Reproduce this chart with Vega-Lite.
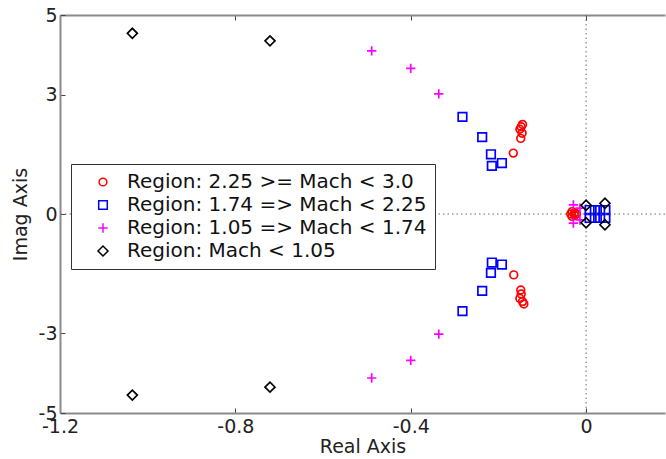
{
  "$schema": "https://vega.github.io/schema/vega-lite/v6.json",
  "width": 605,
  "height": 398,
  "autosize": {"type": "none"},
  "padding": {"left": 60, "top": 15, "right": 1, "bottom": 46},
  "background": "white",
  "config": {
    "view": {"stroke": null},
    "font": "DejaVu Sans",
    "axis": {
      "grid": false,
      "labelFlush": false,
      "labelOverlap": false,
      "domainColor": "#8a8a8a",
      "domainWidth": 2,
      "tickColor": "#444",
      "tickWidth": 1,
      "tickSize": -5,
      "labelColor": "#222",
      "labelFont": "DejaVu Sans",
      "labelFontSize": 19,
      "titleFont": "DejaVu Sans",
      "titleFontSize": 19,
      "titleFontWeight": "normal",
      "titleColor": "#222"
    }
  },
  "datasets": {
    "poles": [
      {"re": -0.166, "im": 1.53, "region": "Region: 2.25 >= Mach < 3.0"},
      {"re": -0.145, "im": 2.25, "region": "Region: 2.25 >= Mach < 3.0"},
      {"re": -0.148, "im": 2.19, "region": "Region: 2.25 >= Mach < 3.0"},
      {"re": -0.151, "im": 2.13, "region": "Region: 2.25 >= Mach < 3.0"},
      {"re": -0.146, "im": 2.03, "region": "Region: 2.25 >= Mach < 3.0"},
      {"re": -0.149, "im": 1.90, "region": "Region: 2.25 >= Mach < 3.0"},
      {"re": -0.165, "im": -1.53, "region": "Region: 2.25 >= Mach < 3.0"},
      {"re": -0.149, "im": -1.91, "region": "Region: 2.25 >= Mach < 3.0"},
      {"re": -0.148, "im": -2.01, "region": "Region: 2.25 >= Mach < 3.0"},
      {"re": -0.151, "im": -2.12, "region": "Region: 2.25 >= Mach < 3.0"},
      {"re": -0.145, "im": -2.20, "region": "Region: 2.25 >= Mach < 3.0"},
      {"re": -0.142, "im": -2.26, "region": "Region: 2.25 >= Mach < 3.0"},
      {"re": -0.032, "im": 0.06, "region": "Region: 2.25 >= Mach < 3.0"},
      {"re": -0.032, "im": -0.06, "region": "Region: 2.25 >= Mach < 3.0"},
      {"re": -0.026, "im": 0.03, "region": "Region: 2.25 >= Mach < 3.0"},
      {"re": -0.026, "im": -0.03, "region": "Region: 2.25 >= Mach < 3.0"},
      {"re": -0.035, "im": 0.0, "region": "Region: 2.25 >= Mach < 3.0"},
      {"re": -0.022, "im": 0.0, "region": "Region: 2.25 >= Mach < 3.0"},
      {"re": -0.489, "im": 4.10, "region": "Region: 1.05 => Mach < 1.74"},
      {"re": -0.400, "im": 3.66, "region": "Region: 1.05 => Mach < 1.74"},
      {"re": -0.336, "im": 3.02, "region": "Region: 1.05 => Mach < 1.74"},
      {"re": -0.336, "im": -3.02, "region": "Region: 1.05 => Mach < 1.74"},
      {"re": -0.400, "im": -3.68, "region": "Region: 1.05 => Mach < 1.74"},
      {"re": -0.489, "im": -4.12, "region": "Region: 1.05 => Mach < 1.74"},
      {"re": -0.029, "im": 0.23, "region": "Region: 1.05 => Mach < 1.74"},
      {"re": -0.029, "im": -0.23, "region": "Region: 1.05 => Mach < 1.74"},
      {"re": -0.014, "im": 0.15, "region": "Region: 1.05 => Mach < 1.74"},
      {"re": -0.014, "im": -0.15, "region": "Region: 1.05 => Mach < 1.74"},
      {"re": -0.282, "im": 2.44, "region": "Region: 1.74 => Mach < 2.25"},
      {"re": -0.237, "im": 1.93, "region": "Region: 1.74 => Mach < 2.25"},
      {"re": -0.217, "im": 1.50, "region": "Region: 1.74 => Mach < 2.25"},
      {"re": -0.215, "im": 1.21, "region": "Region: 1.74 => Mach < 2.25"},
      {"re": -0.192, "im": 1.28, "region": "Region: 1.74 => Mach < 2.25"},
      {"re": -0.282, "im": -2.44, "region": "Region: 1.74 => Mach < 2.25"},
      {"re": -0.237, "im": -1.93, "region": "Region: 1.74 => Mach < 2.25"},
      {"re": -0.217, "im": -1.48, "region": "Region: 1.74 => Mach < 2.25"},
      {"re": -0.215, "im": -1.22, "region": "Region: 1.74 => Mach < 2.25"},
      {"re": -0.192, "im": -1.27, "region": "Region: 1.74 => Mach < 2.25"},
      {"re": 0.008, "im": 0.10, "region": "Region: 1.74 => Mach < 2.25"},
      {"re": 0.020, "im": 0.10, "region": "Region: 1.74 => Mach < 2.25"},
      {"re": 0.032, "im": 0.10, "region": "Region: 1.74 => Mach < 2.25"},
      {"re": 0.044, "im": 0.10, "region": "Region: 1.74 => Mach < 2.25"},
      {"re": 0.008, "im": -0.10, "region": "Region: 1.74 => Mach < 2.25"},
      {"re": 0.020, "im": -0.10, "region": "Region: 1.74 => Mach < 2.25"},
      {"re": 0.032, "im": -0.10, "region": "Region: 1.74 => Mach < 2.25"},
      {"re": 0.044, "im": -0.10, "region": "Region: 1.74 => Mach < 2.25"},
      {"re": -1.035, "im": 4.54, "region": "Region: Mach < 1.05"},
      {"re": -0.721, "im": 4.35, "region": "Region: Mach < 1.05"},
      {"re": -1.035, "im": -4.55, "region": "Region: Mach < 1.05"},
      {"re": -0.721, "im": -4.35, "region": "Region: Mach < 1.05"},
      {"re": 0.0, "im": 0.22, "region": "Region: Mach < 1.05"},
      {"re": 0.0, "im": -0.22, "region": "Region: Mach < 1.05"},
      {"re": 0.043, "im": 0.27, "region": "Region: Mach < 1.05"},
      {"re": 0.043, "im": -0.27, "region": "Region: Mach < 1.05"}
    ]
  },
  "layer": [
    {
      "data": {"values": [{}]},
      "mark": {"type": "rule", "color": "#666", "strokeDash": [1.5, 3], "strokeWidth": 1},
      "encoding": {
        "x": {"datum": 0, "type": "quantitative", "scale": {"domain": [-1.2, 0.18], "nice": false, "zero": false},
              "axis": {"orient": "top", "labels": false, "title": null, "values": [-1.2, -0.8, -0.4, 0]}}
      }
    },
    {
      "data": {"name": "poles"},
      "mark": {"type": "point", "filled": false, "strokeWidth": 1.7, "opacity": 1},
      "encoding": {
        "x": {"field": "re", "type": "quantitative",
              "scale": {"domain": [-1.2, 0.18], "nice": false, "zero": false},
              "axis": {"orient": "bottom", "title": "Real Axis", "values": [-1.2, -0.8, -0.4, 0], "labelExpr": "datum.value + ''", "labelPadding": 9, "titlePadding": 1}},
        "y": {"field": "im", "type": "quantitative",
              "scale": {"domain": [-5, 5], "nice": false, "zero": false},
              "axis": {"title": "Imag Axis", "values": [-5, -3, 0, 3, 5], "labelExpr": "datum.value + ''", "labelPadding": 8, "titlePadding": 8}},
        "color": {"field": "region", "type": "nominal",
                  "scale": {"domain": ["Region: 2.25 >= Mach < 3.0", "Region: 1.74 => Mach < 2.25", "Region: 1.05 => Mach < 1.74", "Region: Mach < 1.05"],
                            "range": ["#ff0000", "#0000ff", "#ff00ff", "#000000"]},
                  "legend": {"title": null, "orient": "none", "legendX": 11, "legendY": 149, "direction": "vertical",
                             "fillColor": "white", "strokeColor": "#333", "padding": 8, "symbolOffset": 14, "labelOffset": 14,
                             "labelFontSize": 20, "labelFont": "DejaVu Sans", "labelColor": "#111", "rowPadding": 3,
                             "symbolSize": 45, "symbolStrokeWidth": 1.5, "labelLimit": 400}},
        "shape": {"field": "region", "type": "nominal",
                  "scale": {"domain": ["Region: 2.25 >= Mach < 3.0", "Region: 1.74 => Mach < 2.25", "Region: 1.05 => Mach < 1.74", "Region: Mach < 1.05"],
                            "range": ["circle", "square", "M-1,0H1M0,-1V1", "diamond"]},
                  "legend": {"title": null, "orient": "none", "legendX": 11, "legendY": 149, "direction": "vertical",
                             "fillColor": "white", "strokeColor": "#333", "padding": 8, "symbolOffset": 14, "labelOffset": 14,
                             "labelFontSize": 20, "labelFont": "DejaVu Sans", "labelColor": "#111", "rowPadding": 3,
                             "symbolSize": 45, "symbolStrokeWidth": 1.5, "labelLimit": 400}},
        "size": {"field": "region", "type": "nominal", "legend": null,
                 "scale": {"domain": ["Region: 2.25 >= Mach < 3.0", "Region: 1.74 => Mach < 2.25", "Region: 1.05 => Mach < 1.74", "Region: Mach < 1.05"],
                           "range": [60, 100, 130, 80]}}
      }
    },
    {
      "data": {"values": [{}]},
      "mark": {"type": "rule", "color": "#666", "strokeDash": [1.5, 3], "strokeWidth": 1},
      "encoding": {
        "y": {"datum": 0, "type": "quantitative"}
      }
    }
  ],
  "resolve": {"axis": {"x": "independent"}}
}
